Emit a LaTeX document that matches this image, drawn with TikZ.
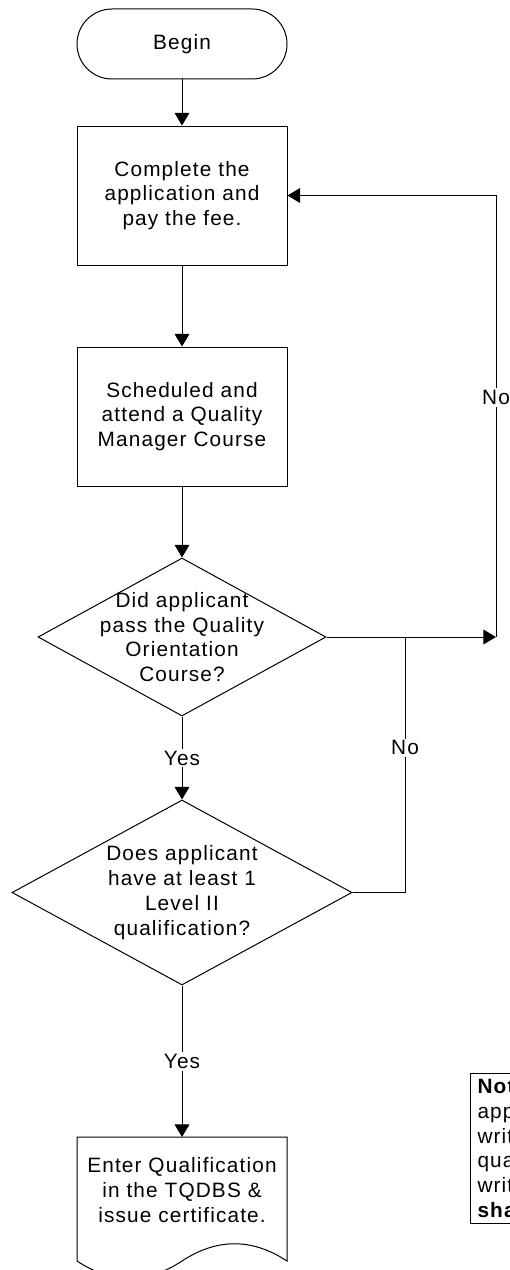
\documentclass[tikz,border=0pt]{standalone}
\usepackage{fontspec}
\newfontfamily\flowfont{Liberation Sans}[LetterSpace=5.5]
\usetikzlibrary{arrows.meta}
\usetikzlibrary{shapes.geometric}

\begin{document}
\begin{tikzpicture}[x=0.75pt,y=0.75pt,yscale=-1,xscale=1,
  font=\flowfont\fontsize{15.6}{18.6}\selectfont,
  line width=0.75pt,
  terminal/.style={draw, rectangle, rounded corners=26.25pt, minimum width=157.5pt, minimum height=52.5pt},
  process/.style={draw, rectangle, minimum width=157.5pt, minimum height=104.25pt, align=center},
  decision/.style={draw, diamond, inner sep=0pt},
  flowline/.style={-{Triangle[length=9.4pt,width=11pt]}},
  answer/.style={fill=white, inner sep=1.5pt}
]
\clip (0,0) rectangle (510,1270);

%Flowchart: Terminator
\node[terminal] (begin) at (182,44) {Begin};
%Flowchart: Process
\node[process] (complete) at (182,195.5) {Complete the\\application and\\pay the fee.};
%Flowchart: Process
\node[process] (attend) at (182,416.5) {Scheduled and\\attend a Quality\\Manager Course};
%Flowchart: Decision
\node[decision, minimum width=216pt, minimum height=118.5pt] (pass) at (182,637) {};
\node[align=center] (passtext) at (pass) {Did applicant\\pass the Quality\\Orientation\\Course?};
%Flowchart: Decision
\node[decision, minimum width=255pt, minimum height=138.75pt] (level) at (182,892.5) {};
\node[align=center] (leveltext) at (level) {Does applicant\\have at least 1\\Level II\\qualification?};
%Flowchart: Document
\draw (77,1137) -- (287,1137) -- (287,1261) .. controls (252,1238) and (217,1238) .. (182,1261) .. controls (147,1284) and (112,1284) .. (77,1261) -- cycle ;
\node[align=center] (enter) at (182,1190) {Enter Qualification\\in the TQDBS \&\\issue certificate.};
% Text Node
\node[draw, anchor=north west, minimum height=112.5pt, text width=90pt, inner xsep=5.25pt, align=left] (note) at (470,1073) {\textbf{Not}\\app\\writ\\qua\\writ\\\textbf{sha}};

\coordinate (doctop) at (182,1137);
\coordinate (loopin) at (496,637);
\coordinate (junct) at (405,637);

%Straight Lines
\draw[flowline] (begin) -- (complete);
\draw[flowline] (complete) -- (attend);
\draw[flowline] (attend) -- (pass);
\draw[flowline] (pass) -- node[answer] (yes1) {Yes} (level);
\draw[flowline] (level) -- node[answer] (yes2) {Yes} (doctop);
\draw[flowline] (pass.east) -- (loopin);
\draw[flowline] (loopin) |- node[answer, pos=0.271] (no1) {No} (complete.east);
\draw (level.east) -| node[answer, pos=0.783] (no2) {No} (junct);

\end{tikzpicture}
\end{document}
